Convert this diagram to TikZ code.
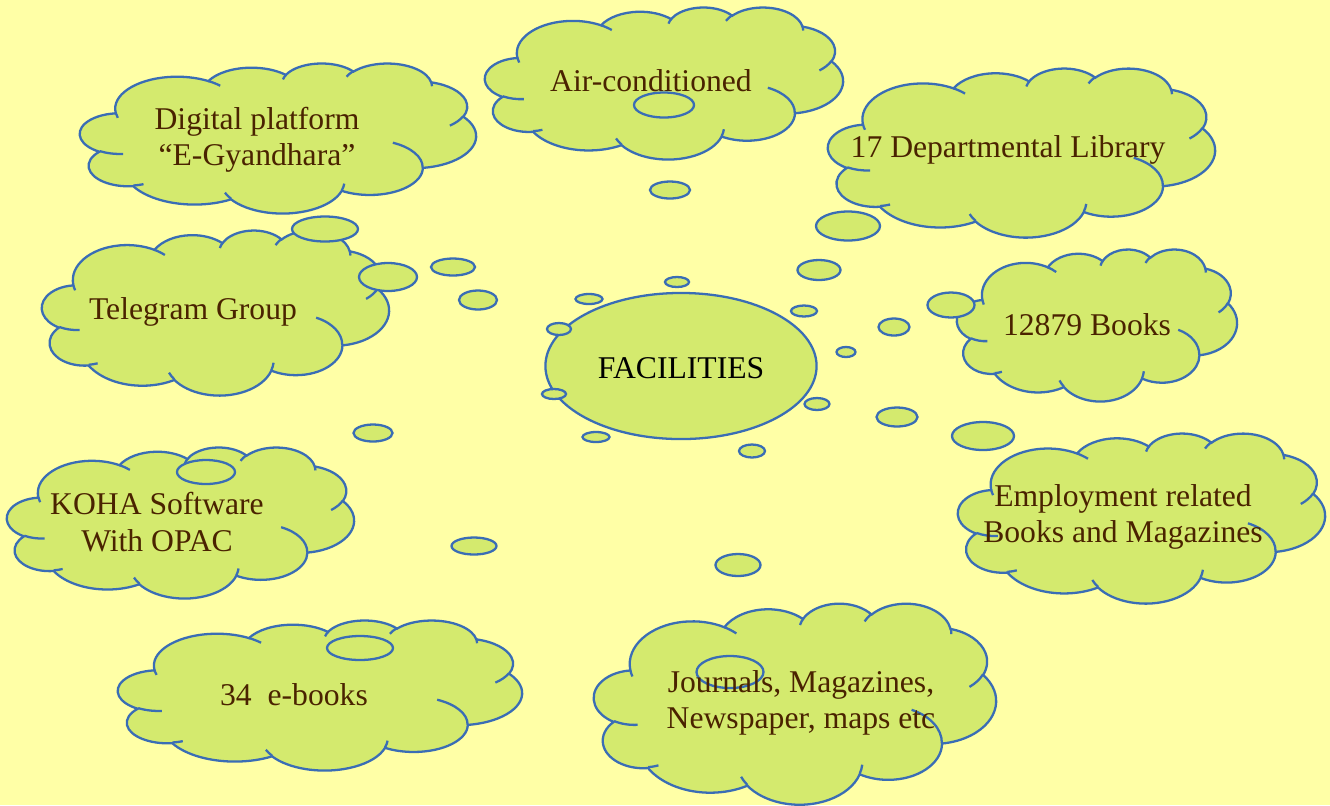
\documentclass[tikz,border=0pt]{standalone}
\usepackage{fontspec}
\setmainfont{Liberation Serif}[Ligatures=TeX]
\newfontfamily\timesfont{Liberation Serif}[Ligatures=TeX]
\usetikzlibrary{shapes.geometric}
\definecolor{paper}{HTML}{FFFFA6}
\definecolor{leaf}{HTML}{D4EA6E}
\definecolor{rim}{HTML}{3A6DB5}
\definecolor{ink}{HTML}{4A2300}
% one arc of a callout cloud: x radius, y radius, start angle, sweep (angles as seen on the ellipse)
\newcommand\puffarc[4]{arc[x radius=#1, y radius=#2,
    start angle={atan2((#1)*sin(#3),(#2)*cos(#3))},
    delta angle={mod(atan2((#1)*sin((#3)+(#4)),(#2)*cos((#3)+(#4)))-atan2((#1)*sin(#3),(#2)*cos(#3))+720,360)}]}
% callout cloud in a box: name, left, top, width, height
\newcommand\thought[5]{%
  \begin{scope}[shift={(#2,#3)}, xscale=#4/43.2, yscale=#5/43.2]
    \filldraw[puff] (3.9,14.37) \puffarc{6.753}{9.19}{-190.4875}{123.7805}
      \puffarc{5.333}{7.267}{-144.1024}{89.9452}
      \puffarc{4.365}{5.945}{-145.8079}{99.723}
      \puffarc{4.857}{6.595}{-130.9861}{117.2417}
      \puffarc{5.333}{7.273}{-78.7089}{109.0269}
      \puffarc{6.775}{9.22}{-46.2673}{130.269}
      \puffarc{5.785}{7.867}{0.625}{114.0333}
      \puffarc{6.752}{9.215}{22.4516}{115.1726}
      \puffarc{7.72}{10.543}{66.2426}{75.711}
      \puffarc{4.36}{5.918}{-274.9421}{146.7356}
      \puffarc{4.345}{5.945}{-246.8285}{152.5189} -- cycle;
    \draw[rim line] (4.693,26.177) \puffarc{4.345}{5.945}{86.742}{26.4295}
      (6.928,34.899) \puffarc{4.36}{5.918}{73.6105}{11.4475}
      (16.478,39.09) \puffarc{6.752}{9.215}{137.6242}{14.0811}
      (28.827,34.751) \puffarc{6.752}{9.215}{6.4533}{15.9984}
      (34.129,22.954) \puffarc{5.785}{7.867}{-70.2924}{70.9174}
      (41.798,15.354) \puffarc{5.333}{7.273}{30.318}{27.7515}
      (38.324,5.426) \puffarc{4.857}{6.595}{-13.7443}{14.8589}
      (29.078,3.952) \puffarc{4.857}{6.595}{-149.1815}{18.1954}
      (22.141,4.72) \puffarc{4.365}{5.945}{-163.4943}{17.6864}
      (14,5.192) \puffarc{6.753}{9.19}{-66.707}{12.3194}
      (4.127,15.789) \puffarc{6.753}{9.19}{157.6544}{11.8582};
    \coordinate (#1) at (21.6,21.6);
  \end{scope}}
\begin{document}
\begin{tikzpicture}[x=0.01cm, y=-0.01cm]
        \tikzstyle{puff} = [draw=rim, fill=leaf, line width=0.65pt]
        \tikzstyle{rim line} = [draw=rim, line width=0.65pt]
        \tikzstyle{bub} = [draw=rim, fill=leaf, line width=0.65pt]
        \tikzstyle{txt} = [text=ink, align=center, font=\timesfont\fontsize{9}{10.3}\selectfont]

        \useasboundingbox[fill=paper] (0,0) rectangle (1330,805);

        % clouds
        \thought{air}{485}{7}{358}{152}
        \thought{departmental}{828}{68}{387}{169}
        \thought{digital}{80}{63}{396}{150}
        \thought{telegram}{42}{230}{347}{165}
        \thought{books}{957}{249}{280}{152}
        \thought{employment}{958}{433}{367}{170}
        \thought{koha}{7}{447}{347}{151}
        \thought{ebooks}{118}{620}{404}{150}
        \thought{journals}{594}{603}{402}{201}

        % centre
        \node[ellipse, bub, minimum width=2.71cm, minimum height=1.46cm, inner sep=0pt] (facilities) at (681,366) {};

        % thought bubbles
        \foreach \x/\y/\a/\b in {664/105/30/12.5, 670/190/20/8.5,
                325/229/33/12.5, 388/277/29/14, 453/267/22/8.5, 478/300/19/9.5,
                848/226/32/14.5, 819/270/21.5/10, 804/311/13/5.5,
                951/305/23.5/12.5, 894/327/15.5/8.5, 846/352/9.5/5,
                983/436/31/14, 897/417/20.5/9.5, 817/404/12.5/6,
                206/472/29/12, 373/433/19.5/8.5,
                360/648/33/12, 474/546/22.5/8.5,
                730/672/33.5/16, 738/565/22.5/11, 752/451/13/6.5,
                589/299/13.5/5, 677/282/12/5, 559/329/12/6,
                554/394/12/5, 596/437/13.5/5}
            \draw[bub] (\x,\y) ellipse [x radius=\a, y radius=\b];

        % labels
        \node[txt] (air text) at (651,81) {Air-conditioned};
        \node[txt] (departmental text) at (1008,150) {17 Departmental Library};
        \node[txt] (digital text) at (257,140) {Digital platform\\``E-Gyandhara''};
        \node[txt] (telegram text) at (193,312) {Telegram Group};
        \node[txt] (books text) at (1087,325) {12879 Books};
        \node[txt] (employment text) at (1123,517) {Employment related\\Books and Magazines};
        \node[txt] (koha text) at (157,522) {KOHA Software\\With OPAC};
        \node[txt] (ebooks text) at (294,695) {34\ \ e-books};
        \node[txt] (journals text) at (801,703) {Journals, Magazines,\\Newspaper, maps etc};
        \node[txt, text=black] (facilities text) at (681,368) {FACILITIES};
    \end{tikzpicture}
\end{document}
